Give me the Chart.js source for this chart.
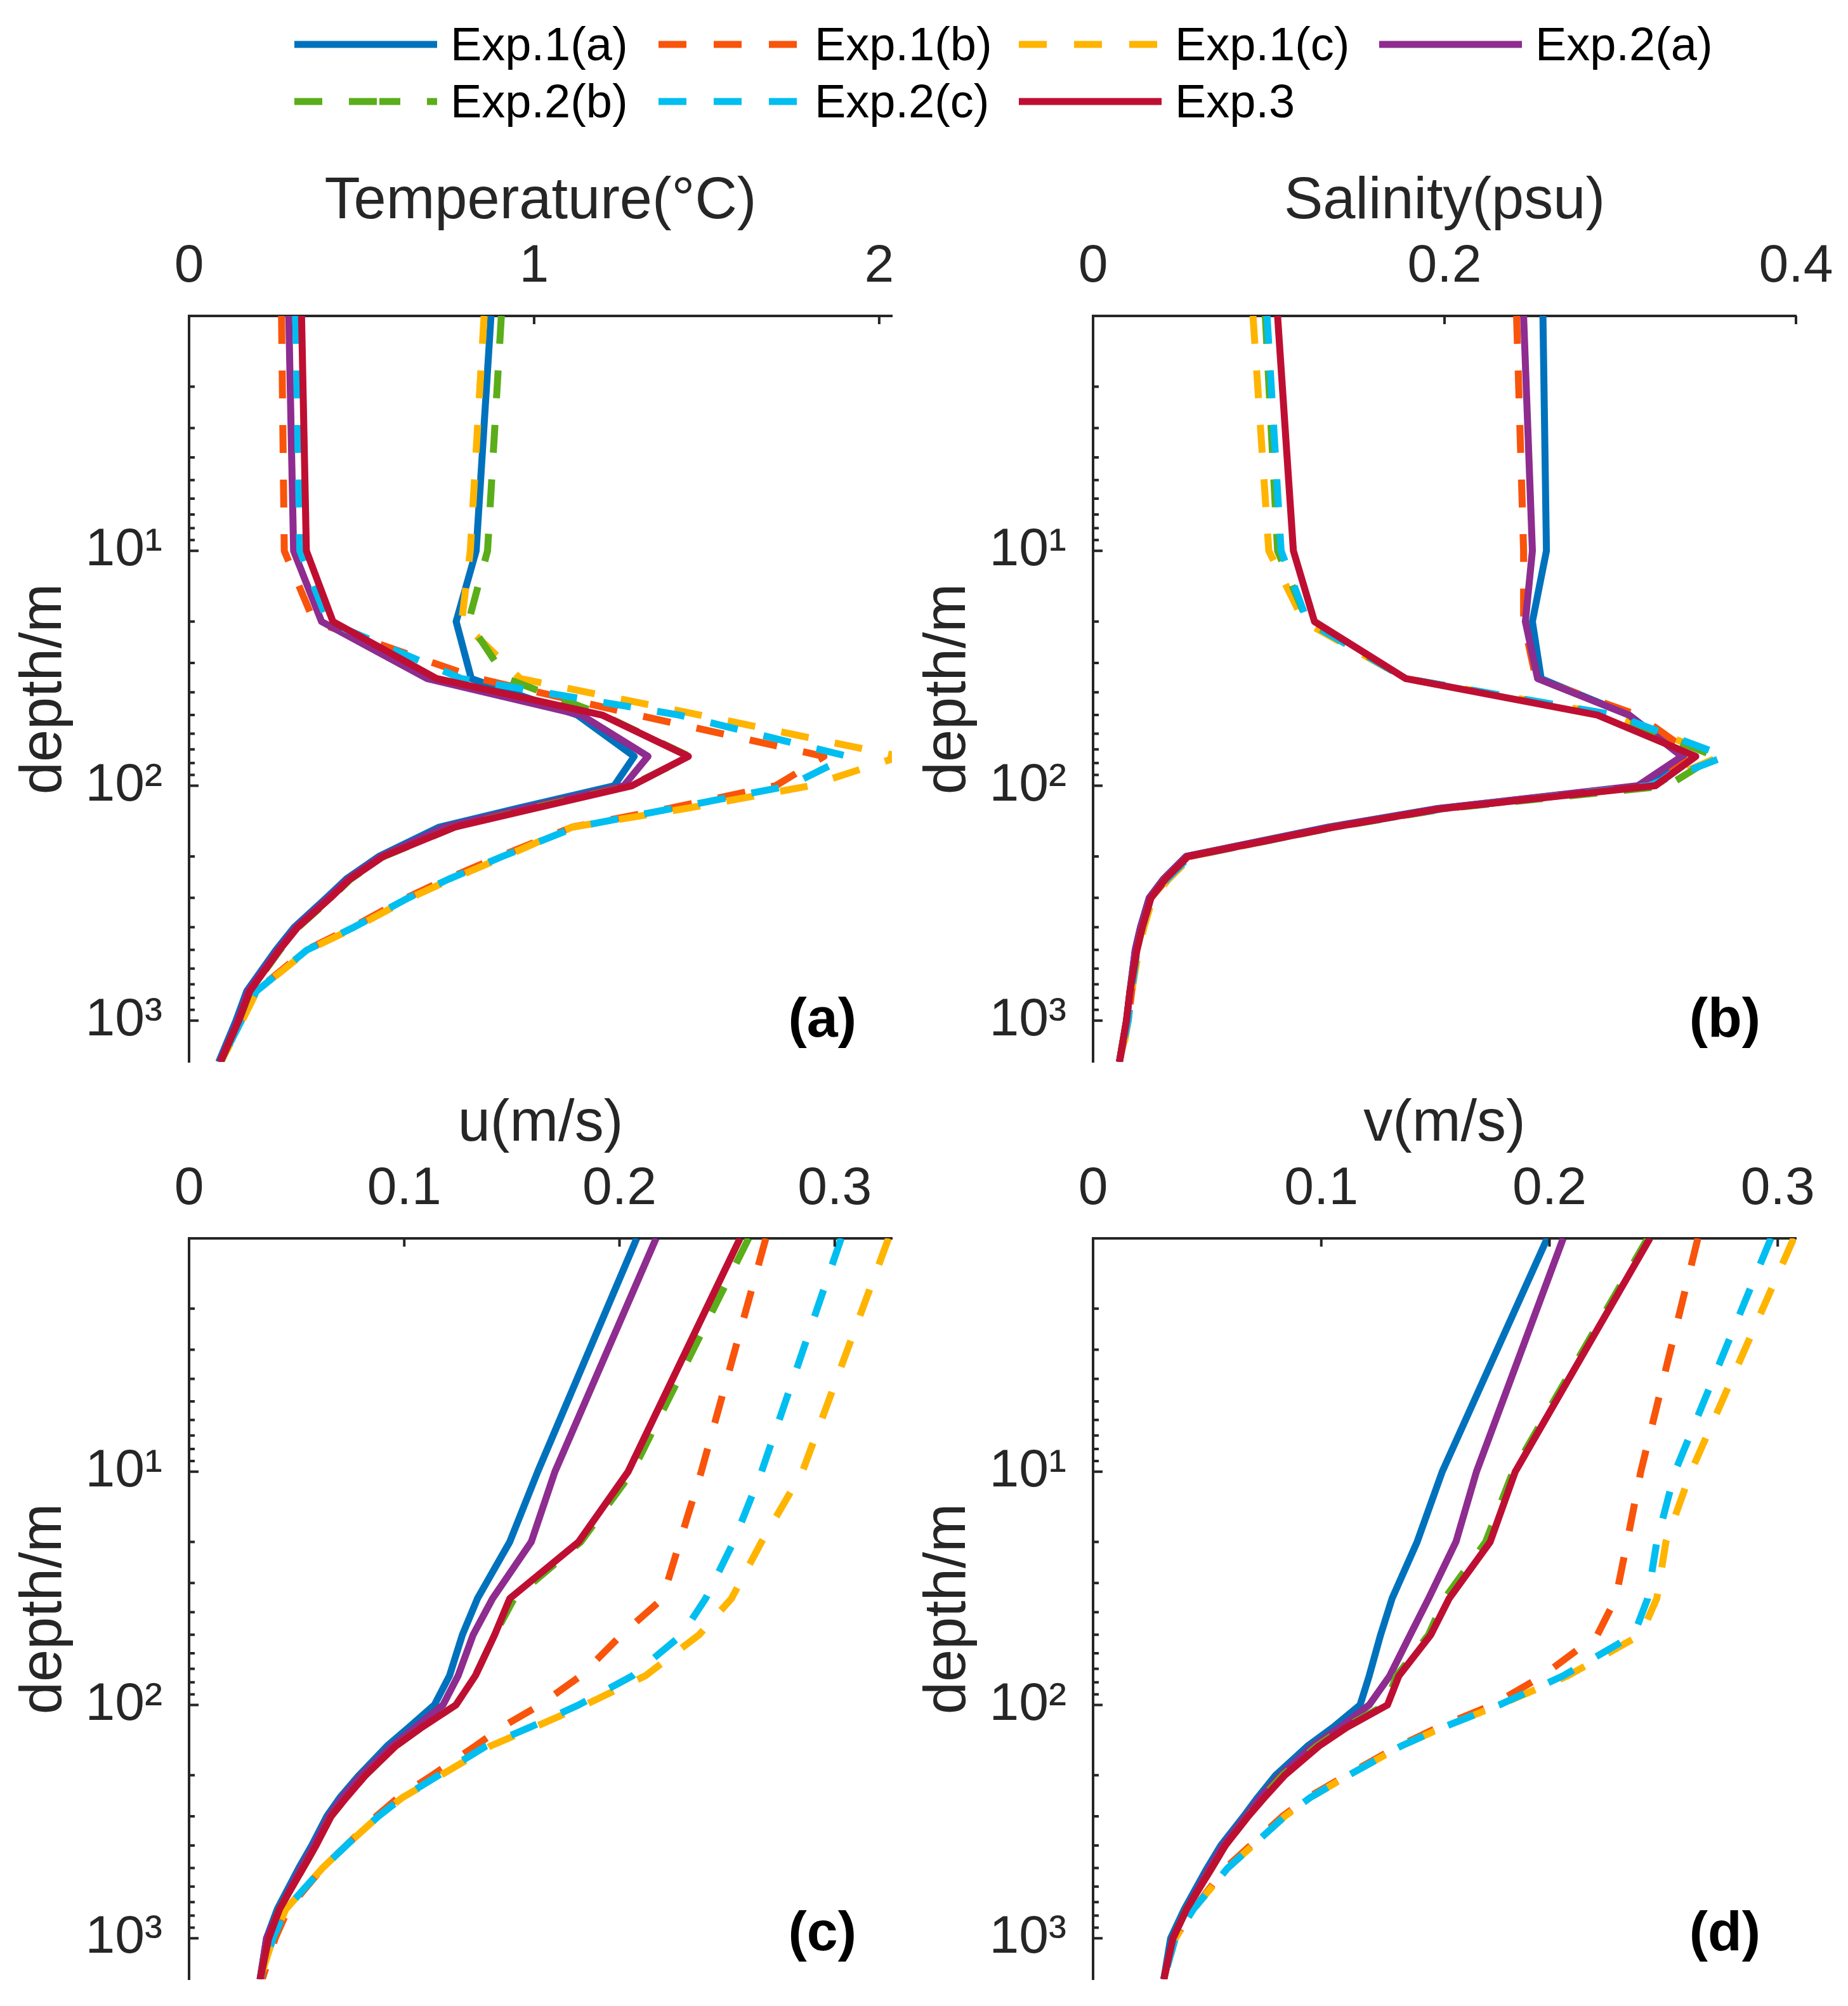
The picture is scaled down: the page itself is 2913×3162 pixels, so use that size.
<!DOCTYPE html>
<html>
<head>
<meta charset="utf-8">
<script src="https://cdn.jsdelivr.net/npm/chart.js@4.4.1/dist/chart.umd.min.js"></script>
<style>
  html, body { margin: 0; padding: 0; background: #fff; }
  #page { position: relative; width: 2913px; height: 3162px; overflow: hidden;
          font-family: 'Liberation Sans', Arial, Helvetica, sans-serif; }
  #page canvas { position: absolute; }
  .item { position: absolute; height: 90px; display: flex; align-items: center; }
  .item svg { margin-right: 21px; display: block; }
  .item span { font-size: 74px; line-height: 1; color: #000; white-space: nowrap; }
</style>
</head>
<body>
<div id="page">
  <div id="legend"></div>
  <canvas id="cTemp" width="1480" height="1540" style="left:0;top:200px"></canvas>
  <canvas id="cSalt" width="1488" height="1540" style="left:1425px;top:200px"></canvas>
  <canvas id="cU" width="1480" height="1508" style="left:0;top:1654px"></canvas>
  <canvas id="cV" width="1488" height="1508" style="left:1425px;top:1654px"></canvas>
</div>
<script>
// depth levels (m) shared by every profile
const depth = [1, 10, 20, 35, 50, 75, 100, 125, 150, 200, 250, 300, 400, 500, 750, 1000, 1500];
const depthTicks = [10, 100, 1000];

const expNames = ['Exp.1(a)', 'Exp.1(b)', 'Exp.1(c)', 'Exp.2(a)', 'Exp.2(b)', 'Exp.2(c)', 'Exp.3'];

// (a) temperature, degC
const temp1a = [0.875, 0.832, 0.774, 0.818, 1.125, 1.29, 1.232, 0.95, 0.725, 0.55, 0.455, 0.398, 0.305, 0.252, 0.167, 0.136, 0.086];
const temp1b = [0.268, 0.276, 0.362, 0.84, 1.30, 1.84, 1.70, 1.39, 1.11, 0.90, 0.745, 0.63, 0.474, 0.34, 0.193, 0.150, 0.090];
const temp1c = [0.855, 0.815, 0.79, 0.96, 1.48, 2.06, 1.80, 1.44, 1.11, 0.915, 0.76, 0.642, 0.483, 0.345, 0.196, 0.154, 0.092];
const temp2a = [0.289, 0.303, 0.384, 0.69, 1.137, 1.33, 1.26, 0.97, 0.74, 0.556, 0.46, 0.403, 0.31, 0.257, 0.171, 0.141, 0.089];
const temp2b = [0.905, 0.865, 0.81, 0.92, 1.20, 1.45, 1.28, 0.99, 0.77, 0.565, 0.468, 0.412, 0.317, 0.264, 0.177, 0.145, 0.092];
const temp2c = [0.309, 0.321, 0.402, 0.79, 1.42, 1.91, 1.74, 1.40, 1.12, 0.908, 0.752, 0.636, 0.478, 0.342, 0.195, 0.152, 0.091];
const temp3  = [0.326, 0.340, 0.417, 0.718, 1.197, 1.447, 1.283, 1.0, 0.77, 0.563, 0.466, 0.41, 0.315, 0.262, 0.176, 0.144, 0.091];

// (b) salinity, psu
const salt1a = [0.256, 0.258, 0.250, 0.255, 0.305, 0.336, 0.313, 0.196, 0.134, 0.053, 0.040, 0.032, 0.027, 0.024, 0.021, 0.019, 0.015];
const salt1b = [0.241, 0.245, 0.245, 0.252, 0.310, 0.343, 0.312, 0.200, 0.137, 0.055, 0.042, 0.033, 0.028, 0.025, 0.022, 0.020, 0.015];
const salt1c = [0.091, 0.100, 0.120, 0.178, 0.295, 0.357, 0.318, 0.200, 0.137, 0.056, 0.043, 0.034, 0.029, 0.026, 0.022, 0.020, 0.016];
const salt2a = [0.245, 0.250, 0.246, 0.253, 0.305, 0.335, 0.310, 0.197, 0.135, 0.053, 0.040, 0.032, 0.027, 0.024, 0.021, 0.019, 0.015];
const salt2b = [0.098, 0.105, 0.122, 0.178, 0.295, 0.354, 0.327, 0.201, 0.138, 0.054, 0.041, 0.033, 0.028, 0.025, 0.021, 0.019, 0.015];
const salt2c = [0.099, 0.107, 0.122, 0.178, 0.297, 0.360, 0.316, 0.200, 0.137, 0.055, 0.042, 0.033, 0.028, 0.025, 0.022, 0.020, 0.015];
const salt3  = [0.105, 0.114, 0.126, 0.178, 0.287, 0.343, 0.320, 0.199, 0.137, 0.054, 0.041, 0.033, 0.028, 0.025, 0.021, 0.019, 0.015];

// (c) u, m/s
const u1a = [0.208, 0.162, 0.149, 0.134, 0.127, 0.121, 0.114, 0.102, 0.092, 0.079, 0.070, 0.064, 0.057, 0.051, 0.041, 0.036, 0.033];
const u1b = [0.268, 0.238, 0.228, 0.220, 0.201, 0.182, 0.163, 0.145, 0.133, 0.113, 0.097, 0.087, 0.073, 0.062, 0.046, 0.040, 0.034];
const u1c = [0.325, 0.285, 0.266, 0.252, 0.237, 0.212, 0.184, 0.160, 0.140, 0.117, 0.099, 0.088, 0.073, 0.062, 0.045, 0.039, 0.033];
const u2a = [0.217, 0.170, 0.159, 0.141, 0.132, 0.125, 0.118, 0.105, 0.094, 0.080, 0.071, 0.065, 0.058, 0.052, 0.042, 0.036, 0.033];
const u2b = [0.260, 0.206, 0.182, 0.151, 0.142, 0.133, 0.124, 0.108, 0.096, 0.082, 0.073, 0.066, 0.059, 0.053, 0.042, 0.037, 0.033];
const u2c = [0.303, 0.266, 0.253, 0.240, 0.229, 0.206, 0.181, 0.158, 0.138, 0.116, 0.099, 0.088, 0.073, 0.062, 0.045, 0.039, 0.033];
const u3  = [0.256, 0.204, 0.181, 0.149, 0.142, 0.133, 0.124, 0.108, 0.096, 0.082, 0.073, 0.066, 0.059, 0.053, 0.042, 0.037, 0.033];

// (d) v, m/s
const v1a = [0.199, 0.153, 0.142, 0.131, 0.126, 0.121, 0.117, 0.105, 0.094, 0.080, 0.072, 0.066, 0.056, 0.050, 0.040, 0.034, 0.031];
const v1b = [0.265, 0.240, 0.234, 0.229, 0.221, 0.197, 0.175, 0.151, 0.134, 0.111, 0.094, 0.083, 0.069, 0.058, 0.044, 0.036, 0.031];
const v1c = [0.307, 0.262, 0.251, 0.247, 0.240, 0.208, 0.178, 0.153, 0.135, 0.112, 0.095, 0.084, 0.070, 0.059, 0.044, 0.036, 0.031];
const v2a = [0.206, 0.168, 0.159, 0.147, 0.139, 0.130, 0.121, 0.108, 0.096, 0.082, 0.073, 0.067, 0.057, 0.051, 0.041, 0.035, 0.031];
const v2b = [0.243, 0.184, 0.172, 0.154, 0.147, 0.133, 0.128, 0.110, 0.098, 0.083, 0.074, 0.068, 0.058, 0.052, 0.041, 0.035, 0.031];
const v2c = [0.297, 0.255, 0.247, 0.243, 0.237, 0.206, 0.178, 0.153, 0.135, 0.112, 0.095, 0.084, 0.070, 0.059, 0.044, 0.036, 0.031];
const v3  = [0.244, 0.185, 0.174, 0.156, 0.148, 0.134, 0.129, 0.111, 0.099, 0.084, 0.075, 0.068, 0.058, 0.052, 0.041, 0.035, 0.031];

const tempTicks = [0, 1, 2];
const saltTicks = [0, 0.2, 0.4];
const uTicks = [0, 0.1, 0.2, 0.3];
const vTicks = [0, 0.1, 0.2, 0.3];

// styles
const expColors = ['#0072BD', '#F9540B', '#FFB400', '#8E2C8F', '#5AAE19', '#00BEF0', '#BE0F32'];
const expDashed = [false, true, true, false, true, true, false];
const LINE_W = 11;
const AXIS = '#262626';
const FONT = "'Liberation Sans', Arial, Helvetica, sans-serif";
const SUP = { 1: '\u00B9', 2: '\u00B2', 3: '\u00B3' };

Chart.defaults.font.family = FONT;
Chart.defaults.color = AXIS;

// inward ticks (matlab style) + panel letter
const axisDecor = {
  id: 'axisDecor',
  afterDraw(chart, args, opts) {
    const { ctx, chartArea } = chart;
    const xs = chart.scales.x, ys = chart.scales.y;
    ctx.save();
    ctx.strokeStyle = AXIS;
    ctx.lineWidth = 4;
    ctx.beginPath();
    for (let e = 0; e < 4; e++) {
      for (let m = 1; m < 10; m++) {
        const d = m * Math.pow(10, e);
        if (d <= ys.min || d >= ys.max) continue;
        const py = ys.getPixelForValue(d);
        ctx.moveTo(chartArea.left, py);
        ctx.lineTo(chartArea.left + (m === 1 ? 15 : 9), py);
      }
    }
    xs.ticks.forEach(t => {
      const px = xs.getPixelForValue(t.value);
      if (px <= chartArea.left + 1) return;
      ctx.moveTo(px, chartArea.top);
      ctx.lineTo(px, chartArea.top + 13);
    });
    ctx.stroke();
    ctx.font = 'bold 88px ' + FONT;
    ctx.fillStyle = '#000';
    ctx.textAlign = 'right';
    ctx.textBaseline = 'middle';
    ctx.fillText(opts.text, chartArea.right + opts.dx, chartArea.bottom + opts.dy);
    ctx.restore();
  }
};

function makePanel(id, cfg) {
  const datasets = cfg.values.map((vals, i) => ({
    label: expNames[i],
    data: vals.map((v, k) => ({ x: v, y: depth[k] })),
    borderColor: expColors[i],
    backgroundColor: expColors[i],
    borderWidth: LINE_W,
    borderDash: expDashed[i] ? [44, 42] : [],
    borderCapStyle: 'butt',
    borderJoinStyle: 'round',
    pointRadius: 0,
    tension: 0,
    fill: false,
    clip: 0,
    order: expNames.length - i
  }));

  return new Chart(document.getElementById(id), {
    type: 'line',
    data: { datasets },
    options: {
      responsive: false,
      animation: false,
      devicePixelRatio: 1,
      layout: { padding: { left: 0, top: 0, right: cfg.padRight, bottom: cfg.padBottom } },
      plugins: {
        legend: { display: false },
        tooltip: { enabled: false },
        axisDecor: { text: cfg.tag, dx: -56, dy: cfg.tagDy }
      },
      scales: {
        x: {
          type: 'linear',
          position: 'top',
          min: 0,
          max: cfg.xMax,
          afterBuildTicks: s => { s.ticks = cfg.xTicks.map(v => ({ value: v })); },
          afterFit: s => { s.height = 298; s.paddingLeft = 0; s.paddingRight = 0; },
          ticks: { callback: v => String(v), font: { size: 84 }, color: AXIS, padding: 27,
                   maxRotation: 0, autoSkip: false },
          grid: { display: true, drawOnChartArea: false, drawTicks: false },
          border: { display: true, color: AXIS, width: 4 },
          title: { display: true, text: cfg.xTitle, font: { size: 92 }, color: AXIS,
                   padding: { top: 63, bottom: 0 } }
        },
        y: {
          type: 'logarithmic',
          position: 'left',
          reverse: true,
          min: 1,
          max: 1500,
          afterBuildTicks: s => { s.ticks = depthTicks.map(v => ({ value: v })); },
          afterFit: s => { s.width = 298; s.paddingTop = 0; s.paddingBottom = 0; },
          ticks: { callback: v => '10' + SUP[Math.round(Math.log10(v))], font: { size: 84 },
                   color: AXIS, padding: 42, autoSkip: false },
          grid: { display: true, drawOnChartArea: false, drawTicks: false },
          border: { display: true, color: AXIS, width: 4 },
          title: { display: true, text: 'depth/m', font: { size: 92 }, color: AXIS,
                   padding: { top: 15, bottom: 0 } }
        }
      }
    },
    plugins: [axisDecor]
  });
}

makePanel('cTemp', { values: [temp1a, temp1b, temp1c, temp2a, temp2b, temp2c, temp3],
  xTitle: 'Temperature(\u00B0C)', xMax: 2.037, xTicks: tempTicks, tag: '(a)', tagDy: -64,
  padRight: 74, padBottom: 66 });
makePanel('cSalt', { values: [salt1a, salt1b, salt1c, salt2a, salt2b, salt2c, salt3],
  xTitle: 'Salinity(psu)', xMax: 0.4, xTicks: saltTicks, tag: '(b)', tagDy: -64,
  padRight: 82, padBottom: 66 });
makePanel('cU', { values: [u1a, u1b, u1c, u2a, u2b, u2c, u3],
  xTitle: 'u(m/s)', xMax: 0.3266, xTicks: uTicks, tag: '(c)', tagDy: -70,
  padRight: 74, padBottom: 42 });
makePanel('cV', { values: [v1a, v1b, v1c, v2a, v2b, v2c, v3],
  xTitle: 'v(m/s)', xMax: 0.308, xTicks: vTicks, tag: '(d)', tagDy: -70,
  padRight: 82, padBottom: 42 });

// legend across the top
const legendSlots = [[464, 25], [1038, 25], [1606, 25], [2174, 25], [464, 115], [1038, 115], [1606, 115]];
const legendDash = ['', '44 43', '44 43', '', '44 42 44 4 33 42 18', '44 43', ''];
const legend = document.getElementById('legend');
expNames.forEach((name, i) => {
  const item = document.createElement('div');
  item.className = 'item';
  item.style.left = legendSlots[i][0] + 'px';
  item.style.top = legendSlots[i][1] + 'px';
  const dash = legendDash[i] ? ` stroke-dasharray="${legendDash[i]}"` : '';
  item.innerHTML = `<svg width="225" height="14"><line x1="0" y1="7" x2="225" y2="7" stroke="${expColors[i]}" stroke-width="${LINE_W}"${dash}/></svg><span>${name}</span>`;
  legend.appendChild(item);
});
</script>
</body>
</html>
